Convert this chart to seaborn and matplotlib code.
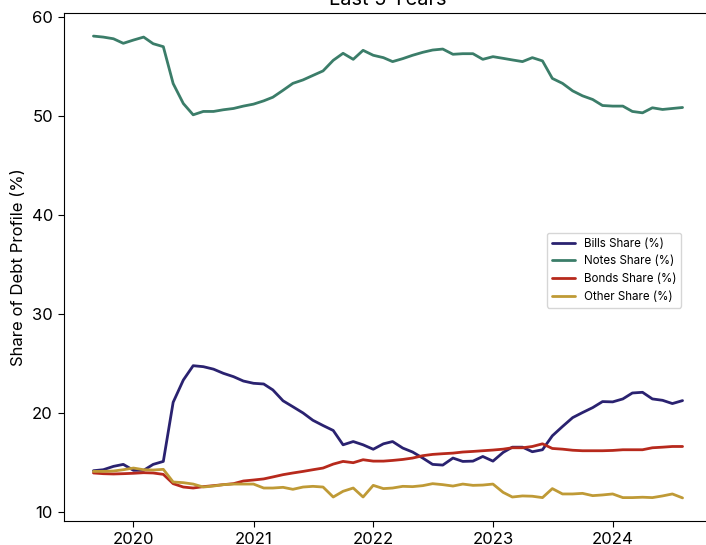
import matplotlib
matplotlib.use("Agg")
import matplotlib.pyplot as plt
import matplotlib.dates as mdates
import seaborn as sns
import pandas as pd

# ---- data ----
dates = pd.date_range("2019-09-01", periods=60, freq="MS")

bills = [14.13, 14.23, 14.57, 14.77, 14.17, 14.17, 14.77, 15.07, 21.05, 23.3,
         24.75, 24.65, 24.4, 23.98, 23.64, 23.2, 22.97, 22.9, 22.3, 21.2,
         20.6, 19.97, 19.23, 18.7, 18.2, 16.75, 17.08, 16.75, 16.3, 16.85,
         17.08, 16.42, 16.02, 15.41, 14.77, 14.7, 15.41, 15.07, 15.1, 15.57,
         15.1, 15.98, 16.51, 16.51, 16.05, 16.25, 17.66, 18.6, 19.5, 20.01,
         20.51, 21.12, 21.09, 21.39, 21.99, 22.06, 21.39, 21.25, 20.92, 21.22]

notes = [58.08, 57.98, 57.81, 57.35, 57.68, 57.98, 57.31, 57.01, 53.28, 51.26,
         50.12, 50.46, 50.46, 50.63, 50.76, 51.0, 51.2, 51.53, 51.9, 52.6,
         53.3, 53.65, 54.1, 54.56, 55.63, 56.34, 55.73, 56.64, 56.14, 55.9,
         55.5, 55.8, 56.14, 56.44, 56.67, 56.77, 56.24, 56.3, 56.3, 55.73,
         56.0, 55.83, 55.67, 55.5, 55.9, 55.57, 53.8, 53.3, 52.54, 52.04,
         51.67, 51.06, 51.0, 51.0, 50.46, 50.32, 50.83, 50.66, 50.76, 50.86]

bonds = [13.9, 13.83, 13.8, 13.83, 13.87, 13.93, 13.9, 13.76, 12.82, 12.48,
         12.38, 12.52, 12.62, 12.72, 12.82, 13.09, 13.19, 13.3, 13.5, 13.73,
         13.9, 14.06, 14.23, 14.4, 14.8, 15.07, 14.94, 15.24, 15.1, 15.1,
         15.17, 15.27, 15.41, 15.65, 15.78, 15.85, 15.91, 16.02, 16.08, 16.15,
         16.22, 16.31, 16.45, 16.45, 16.58, 16.85, 16.38, 16.31, 16.2, 16.15,
         16.15, 16.15, 16.18, 16.25, 16.25, 16.25, 16.45, 16.51, 16.58, 16.58]

other = [14.06, 14.06, 14.1, 14.23, 14.4, 14.23, 14.2, 14.27, 12.99, 12.92,
         12.78, 12.48, 12.58, 12.72, 12.78, 12.78, 12.78, 12.38, 12.38, 12.45,
         12.25, 12.48, 12.55, 12.48, 11.47, 12.05, 12.38, 11.47, 12.65, 12.32,
         12.38, 12.55, 12.52, 12.62, 12.82, 12.72, 12.58, 12.78, 12.65, 12.68,
         12.78, 11.94, 11.47, 11.58, 11.55, 11.41, 12.32, 11.78, 11.78, 11.84,
         11.61, 11.68, 11.78, 11.41, 11.41, 11.45, 11.41, 11.58, 11.78, 11.38]

series_names = ["Bills Share (%)", "Notes Share (%)", "Bonds Share (%)", "Other Share (%)"]
series_colors = ["#2a2270", "#3b7d69", "#b7291c", "#bf9a36"]

title = "Last 5 Years"
ylabel = "Share of Debt Profile (%)"

# ---- frame ----
frames = []
for name, vals in zip(series_names, [bills, notes, bonds, other]):
    frames.append(pd.DataFrame({"date": dates, "value": vals, "series": name}))
df = pd.concat(frames, ignore_index=True)

sns.set_style("ticks")
plt.rcParams["font.family"] = ["Inter", "DejaVu Sans"]
plt.rcParams["axes.edgecolor"] = "black"
plt.rcParams["xtick.color"] = "black"
plt.rcParams["ytick.color"] = "black"
plt.rcParams["text.color"] = "black"
plt.rcParams["axes.labelcolor"] = "black"

fig = plt.figure(figsize=(7.06, 5.45), dpi=100)
ax = fig.add_axes([64 / 706, (545 - 521) / 545, 648 / 706, 508 / 545])

sns.lineplot(data=df, x="date", y="value", hue="series", hue_order=series_names,
             palette=dict(zip(series_names, series_colors)), linewidth=2.0, ax=ax)

ax.set_title(title, fontsize=14.4, pad=6)
ax.set_ylabel(ylabel, fontsize=12)
ax.set_xlabel("")
ax.tick_params(axis="both", labelsize=12, length=4.5, width=0.8, direction="out")
ax.xaxis.set_major_locator(mdates.YearLocator())
ax.xaxis.set_major_formatter(mdates.DateFormatter("%Y"))
for s in ax.spines.values():
    s.set_visible(True)
    s.set_linewidth(0.8)
    s.set_color("black")

handles, labels = ax.get_legend_handles_labels()
for h in handles:
    h.set_linewidth(2.0)
ax.legend(handles, labels, loc="upper left", bbox_to_anchor=(547 / 706, 1 - 233 / 545),
          bbox_transform=fig.transFigure, borderaxespad=0, fontsize=8.33,
          frameon=True, fancybox=True, edgecolor="0.8", framealpha=0.8)

fig.savefig("out.png", dpi=100)
